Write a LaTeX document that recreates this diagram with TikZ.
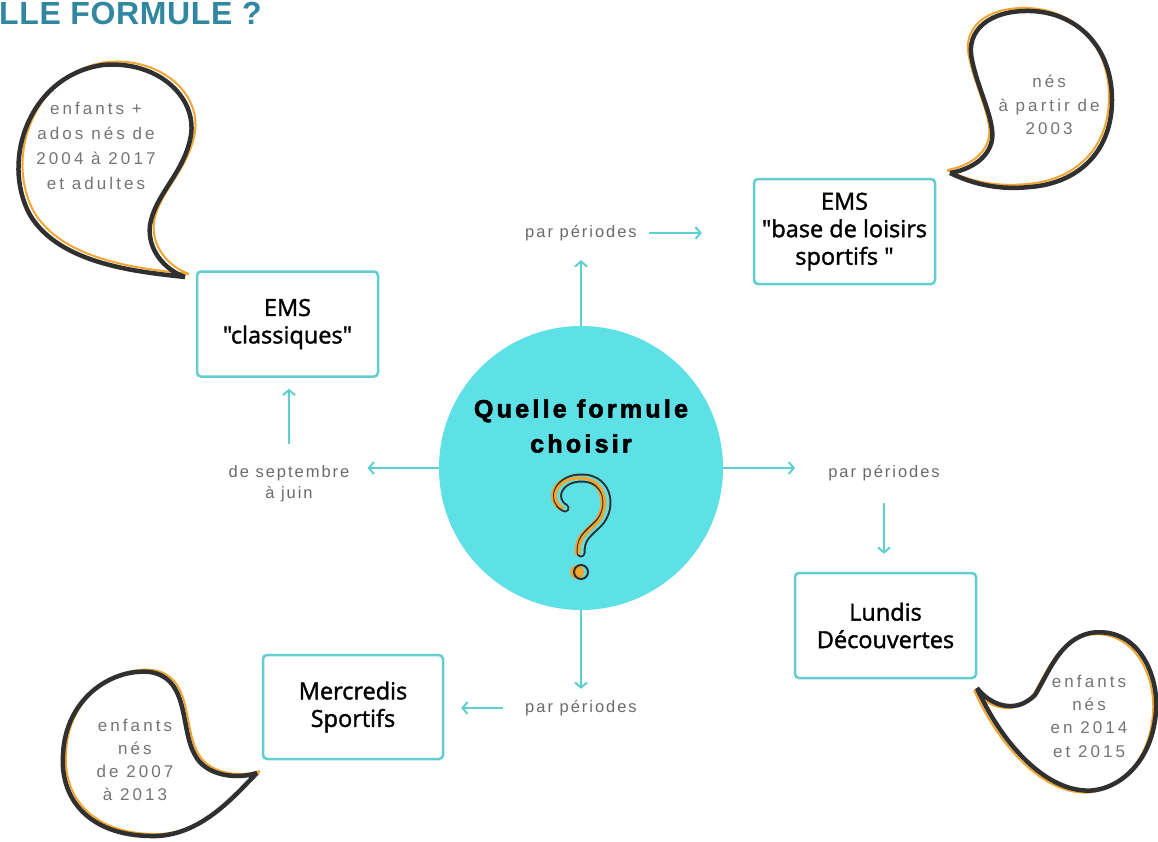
\documentclass[tikz,border=0pt]{standalone}
\usepackage{fontspec}
\usetikzlibrary{arrows.meta,calc}
\setmainfont{Liberation Sans}
\newfontfamily\boxfont{Open Sans}[FakeBold=1.5]
\newfontfamily\lblfont{Liberation Sans}[LetterSpace=12]
\newfontfamily\bubfont{Liberation Sans}[LetterSpace=18]
\newfontfamily\titfont{Liberation Sans}[LetterSpace=13,FakeBold=2.5]
\newfontfamily\headfont{Liberation Sans}[LetterSpace=2]
\definecolor{cyanc}{HTML}{5DE0E6}
\definecolor{boxc}{HTML}{62CDD0}
\definecolor{arrowc}{HTML}{5CCFD0}
\definecolor{greyc}{HTML}{6A6A6A}
\definecolor{bubtextc}{HTML}{747474}
\definecolor{darkc}{HTML}{303030}
\definecolor{orangec}{HTML}{F2A531}
\definecolor{titlec}{HTML}{31879F}
\tikzset{
  boxnode/.style={draw=boxc, line width=2.5pt, rounded corners=4pt, minimum width=181pt, minimum height=105pt, align=center, inner sep=0pt, font=\boxfont\fontsize{23.5}{27.5}\selectfont},
  lbl/.style={inner sep=0pt, text=greyc, font=\lblfont\fontsize{16.5}{21}\selectfont, text height=12pt, text depth=4pt},
  lbl2/.style={inner sep=0pt, text=greyc, align=center, font=\lblfont\fontsize{16.5}{21}\selectfont},
  bubtext/.style={inner sep=0pt, text=bubtextc, align=center},
  conn/.style={draw=arrowc, line width=2pt, -{Straight Barb[length=5pt,width=12pt]}},
  bubdark/.style={draw=darkc, line width=4.5pt, line join=round},
  buborange/.style={draw=orangec, line width=2pt, line join=round},
}
\begin{document}
\begin{tikzpicture}[x=1pt,y=-1pt]
\useasboundingbox (0,0) rectangle (1158,841);
\fill[white] (0,0) rectangle (1158,841);

% heading (cut off at the left as in the reference)
\node[anchor=base west, inner sep=0pt, text=titlec, font=\headfont\bfseries\fontsize{32}{32}\selectfont] (head) at (-1,24.5) {LLE FORMULE ?};

% central circle
\node[circle, fill=cyanc, minimum size=284pt, inner sep=0pt] (c) at (581,468) {};
\node[inner sep=0pt, align=center, font=\titfont\bfseries\fontsize{25}{35}\selectfont] (ctext) at (581,426) {Quelle formule\\choisir};

% question mark
\def\hook{(565,508) .. controls (550,500) and (558,477) .. (583,478) .. controls (610,479) and (614,511) .. (596,526) .. controls (585,536) and (581,540) .. (581,553)}
\draw[orangec, line width=6pt, line cap=round, xshift=-3.5pt] \hook;
\draw[darkc, line width=2pt, double=cyanc, double distance=5pt, line cap=round] \hook;
\draw[orangec, line width=3pt, line cap=round, xshift=-2pt] \hook;
\fill[orangec] (577,572) circle (7);
\draw[darkc, line width=2pt] (581,572) circle (7);

% boxes
\node[boxnode] (b1) at (287.5,324) {EMS\\"classiques"};
\node[boxnode] (b2) at (844.5,231.5) {EMS\\"base de loisirs\\sportifs "};
\node[boxnode] (b3) at (885.5,625.5) {Lundis\\Découvertes};
\node[boxnode, minimum width=180pt, minimum height=104pt] (b4) at (353,707) {Mercredis\\Sportifs};

% labels
\node[lbl] (l1) at (581,233) {par périodes};
\node[lbl2] (l2) at (289,484) {de septembre\\à juin};
\node[lbl] (l3) at (884,473) {par périodes};
\node[lbl] (l4) at (581,708) {par périodes};

% connectors
\draw[conn, shorten >=19pt] (c.north) -- (l1.south);
\draw[conn, shorten <=12pt, shorten >=51pt] (l1.east) -- (l1.east -| b2.west);
\draw[conn, shorten >=18pt] (c.west) -- (c.west -| l2.east);
\draw[conn, shorten <=22pt, shorten >=11pt] (l2.north) -- (l2.north |- b1.south);
\draw[conn, shorten >=33pt] (c.east) -- (c.east -| l3.west);
\draw[conn, shorten <=22pt, shorten >=18pt] (l3.south) -- (l3.south |- b3.north);
\draw[conn, shorten >=11pt] (c.south) -- (l4.north);
\draw[conn, shorten <=22pt, shorten >=17pt] (l4.west) -- (l4.west -| b4.east);

% bubble 1 (top left)
\def\bubA{(185,277) .. controls (140,272) and (60,265) .. (30,215) .. controls (0,160) and (30,75) .. (103,65) .. controls (160,60) and (200,100) .. (190,140) .. controls (182,175) and (155,195) .. (150,225) .. controls (147,250) and (165,270) .. (185,277)}
\draw[buborange, xshift=4pt, yshift=3pt] \bubA;
\draw[bubdark] \bubA;
\node[bubtext, font=\bubfont\fontsize{17}{25}\selectfont] (t1) at (96,146) {enfants +\\ados nés de\\2004 à 2017\\et adultes};

% bubble 2 (top right)
\def\bubB{(950,173) .. controls (975,185) and (1000,190) .. (1030,187) .. controls (1080,183) and (1112,150) .. (1112,100) .. controls (1112,45) and (1075,12) .. (1030,11) .. controls (990,10) and (965,30) .. (972,60) .. controls (978,90) and (995,120) .. (992,140) .. controls (988,160) and (968,170) .. (950,173)}
\draw[buborange, xshift=-3pt, yshift=3pt] \bubB;
\draw[bubdark] \bubB;
\node[bubtext, font=\bubfont\fontsize{17}{23.5}\selectfont] (t2) at (1049,105) {nés\\à partir de\\2003};

% bubble 3 (bottom right)
\def\bubC{(977,688) .. controls (990,705) and (1015,715) .. (1035,695) .. controls (1050,670) and (1060,640) .. (1090,633) .. controls (1140,625) and (1162,680) .. (1155,720) .. controls (1148,770) and (1110,795) .. (1080,790) .. controls (1040,785) and (1000,740) .. (977,688)}
\draw[buborange, xshift=-3pt, yshift=-2pt] \bubC;
\draw[bubdark] \bubC;
\node[bubtext, font=\bubfont\fontsize{17}{23.3}\selectfont] (t3) at (1089,716) {enfants\\nés\\en 2014\\et 2015};

% bubble 4 (bottom left)
\def\bubD{(257,773) .. controls (235,795) and (200,838) .. (150,836) .. controls (90,835) and (60,800) .. (63,755) .. controls (65,700) and (110,668) .. (150,672) .. controls (190,678) and (180,730) .. (195,755) .. controls (205,775) and (235,780) .. (257,773)}
\draw[buborange, xshift=3pt, yshift=2pt] \bubD;
\draw[bubdark] \bubD;
\node[bubtext, font=\bubfont\fontsize{17}{23}\selectfont] (t4) at (135,760) {enfants\\nés\\de 2007\\à 2013};
\end{tikzpicture}
\end{document}
